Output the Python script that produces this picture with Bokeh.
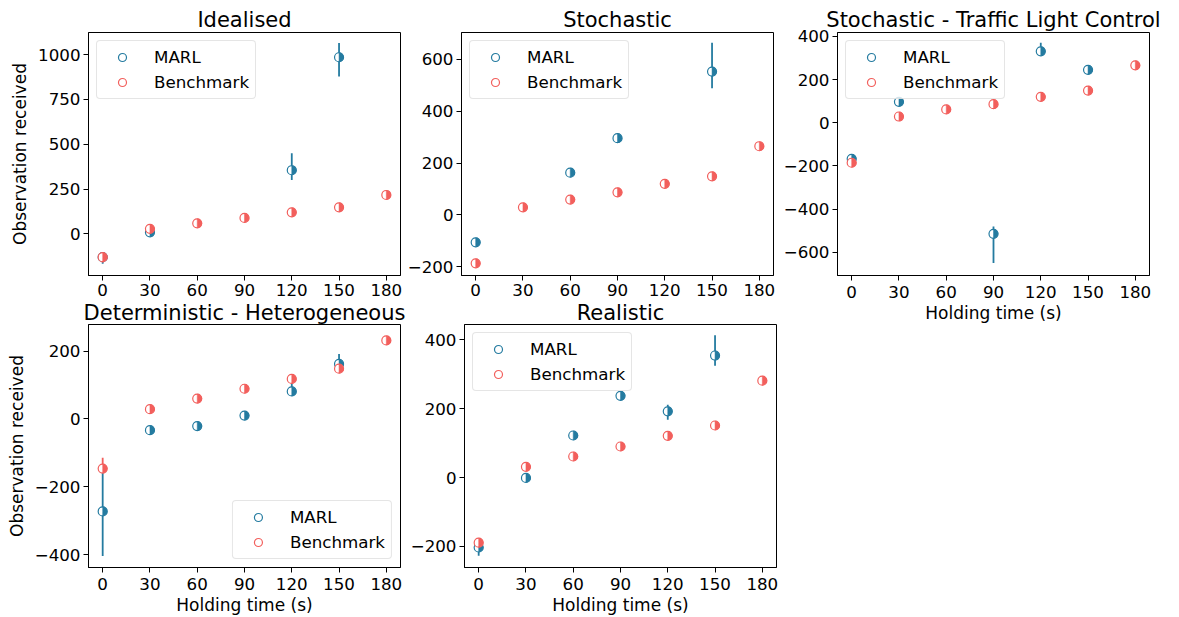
import math
from bokeh.plotting import figure
from bokeh.models import FixedTicker, Legend, LegendItem, Range1d, ColumnDataSource
from bokeh.layouts import row, column
from bokeh.embed import file_html
from bokeh.resources import INLINE

# ---------------- data ----------------
holding = [0, 30, 60, 90, 120, 150, 180]
x_ticks = [0, 30, 60, 90, 120, 150, 180]

# Idealised
ideal_marl_x = [0, 30, 120, 150]
ideal_marl_y = [-130, 9, 355, 985]
ideal_marl_lo = [-167, 1, 301, 877]
ideal_marl_hi = [-103, 17, 450, 1065]
ideal_bench_y = [-130, 28, 59, 89, 120, 148, 217]
ideal_bench_lo = [-160, 25, 56, 86, 117, 145, 214]
ideal_bench_hi = [-110, 31, 62, 92, 123, 151, 220]

# Stochastic
stoch_marl_x = [0, 60, 90, 150]
stoch_marl_y = [-106, 163, 296, 553]
stoch_marl_lo = [-112, 158, 290, 489]
stoch_marl_hi = [-100, 168, 302, 664]
stoch_bench_y = [-187, 29, 59, 87, 120, 149, 265]
stoch_bench_lo = [-192, 26, 56, 84, 117, 146, 261]
stoch_bench_hi = [-182, 32, 62, 90, 123, 152, 269]

# Stochastic - Traffic Light Control
tlc_marl_x = [0, 30, 90, 120, 150]
tlc_marl_y = [-167, 97, -514, 331, 245]
tlc_marl_lo = [-173, 92, -649, 320, 240]
tlc_marl_hi = [-160, 102, -480, 371, 250]
tlc_bench_y = [-185, 29, 62, 86, 120, 149, 266]
tlc_bench_lo = [-190, 26, 59, 83, 117, 146, 262]
tlc_bench_hi = [-180, 32, 65, 89, 123, 152, 270]

# Deterministic - Heterogeneous
het_marl_x = [0, 30, 60, 90, 120, 150]
het_marl_y = [-272, -33, -21, 10, 81, 162]
het_marl_lo = [-403, -38, -26, 5, 72, 140]
het_marl_hi = [-142, -28, -16, 15, 115, 191]
het_bench_y = [-146, 29, 60, 89, 118, 148, 231]
het_bench_lo = [-150, 26, 57, 86, 115, 145, 227]
het_bench_hi = [-114, 32, 63, 92, 121, 151, 235]

# Realistic
real_marl_x = [0, 30, 60, 90, 120, 150]
real_marl_y = [-203, -1, 122, 237, 192, 354]
real_marl_lo = [-227, -5, 118, 232, 168, 324]
real_marl_hi = [-182, 3, 126, 242, 211, 413]
real_bench_y = [-189, 31, 61, 90, 121, 151, 281]
real_bench_lo = [-194, 28, 58, 87, 118, 148, 277]
real_bench_hi = [-184, 34, 64, 93, 124, 154, 285]

series_names = ["MARL", "Benchmark"]
x_label = "Holding time (s)"
y_label = "Observation received"

MARL_COLOR = "#247BA0"
BENCH_COLOR = "#F25F5C"
FONT = "DejaVu Sans"
TICK_FS = "16.7px"


def draw_series(p, xs, ys, lo, hi, color):
    src = ColumnDataSource(dict(x=xs, y=ys, lo=lo, hi=hi))
    p.segment(x0="x", y0="lo", x1="x", y1="hi", source=src,
              line_color=color, line_width=1.8)
    r = p.scatter(x="x", y="y", source=src, size=9, marker="circle",
                  fill_color="white", line_color=color, line_width=1.2)
    p.wedge(x="x", y="y", radius=4.5, radius_units="screen",
            start_angle=-math.pi / 2, end_angle=math.pi / 2, source=src,
            fill_color=color, line_color=color, line_width=0.5)
    return r


def make_panel(title, mx, my, mlo, mhi, by, blo, bhi, yr, yt,
               ylab, xlab, loc, bl, br, bt, title_standoff, x_standoff):
    p = figure(frame_width=312, frame_height=243,
               x_range=Range1d(-9, 189), y_range=Range1d(*yr),
               output_backend="svg", toolbar_location=None,
               min_border_left=bl, min_border_right=br,
               min_border_top=bt, min_border_bottom=0,
               title=title)
    p.title.text_font = FONT
    p.title.text_font_size = "21px"
    p.title.text_font_style = "normal"
    p.title.text_color = "black"
    p.title.align = "center"
    p.title.standoff = title_standoff

    p.xgrid.visible = False
    p.ygrid.visible = False
    p.outline_line_color = "black"
    p.outline_line_width = 1
    p.background_fill_color = "white"
    p.border_fill_color = "white"

    p.xaxis.ticker = FixedTicker(ticks=x_ticks)
    p.yaxis.ticker = FixedTicker(ticks=yt)
    p.yaxis.major_label_overrides = {t: "\u2212" + str(abs(t)) for t in yt if t < 0}
    for ax in (p.xaxis, p.yaxis):
        ax.major_tick_in = 0
        ax.major_tick_out = 5
        ax.minor_tick_line_color = None
        ax.axis_line_color = "black"
        ax.major_tick_line_color = "black"
        ax.major_label_text_font = FONT
        ax.major_label_text_font_size = TICK_FS
        ax.major_label_text_color = "black"
        ax.axis_label_text_font = FONT
        ax.axis_label_text_font_size = "17px"
        ax.axis_label_text_font_style = "normal"
        ax.axis_label_text_color = "black"
    p.xaxis.major_label_standoff = x_standoff
    p.yaxis.major_label_standoff = 3
    p.xaxis.axis_label_standoff = 2
    p.yaxis.axis_label_standoff = 5
    if xlab:
        p.xaxis.axis_label = xlab
    if ylab:
        p.yaxis.axis_label = ylab

    r1 = draw_series(p, mx, my, mlo, mhi, MARL_COLOR)
    r2 = draw_series(p, holding, by, blo, bhi, BENCH_COLOR)

    leg = Legend(items=[LegendItem(label=series_names[0], renderers=[r1]),
                        LegendItem(label=series_names[1], renderers=[r2])],
                 location=loc)
    leg.label_text_font = FONT
    leg.label_text_font_size = TICK_FS
    leg.label_text_color = "black"
    leg.glyph_width = 38
    leg.glyph_height = 20
    leg.label_height = 20
    leg.label_standoff = 13
    leg.spacing = 5
    leg.padding = 6
    leg.margin = 8
    leg.border_line_color = "#cccccc"
    leg.border_line_width = 1
    leg.background_fill_alpha = 0.8
    try:
        leg.border_radius = 4
    except Exception:
        pass
    p.add_layout(leg)
    return p


f1 = make_panel("Idealised", ideal_marl_x, ideal_marl_y, ideal_marl_lo, ideal_marl_hi,
                ideal_bench_y, ideal_bench_lo, ideal_bench_hi,
                (-232, 1123), [0, 250, 500, 750, 1000],
                y_label, None, "top_left", 88, 2, 32, 2, 3)
f2 = make_panel("Stochastic", stoch_marl_x, stoch_marl_y, stoch_marl_lo, stoch_marl_hi,
                stoch_bench_y, stoch_bench_lo, stoch_bench_hi,
                (-234, 704), [-200, 0, 200, 400, 600],
                None, None, "top_left", 59, 2, 32, 2, 3)
f3 = make_panel("Stochastic - Traffic Light Control", tlc_marl_x, tlc_marl_y, tlc_marl_lo, tlc_marl_hi,
                tlc_bench_y, tlc_bench_lo, tlc_bench_hi,
                (-707, 418), [-600, -400, -200, 0, 200, 400],
                None, x_label, "top_left", 59, 20, 32, 2, 5)
f4 = make_panel("Deterministic - Heterogeneous", het_marl_x, het_marl_y, het_marl_lo, het_marl_hi,
                het_bench_y, het_bench_lo, het_bench_hi,
                (-437, 278), [-400, -200, 0, 200],
                y_label, x_label, "bottom_right", 88, 7, 0, 0, 5)
f5 = make_panel("Realistic", real_marl_x, real_marl_y, real_marl_lo, real_marl_hi,
                real_bench_y, real_bench_lo, real_bench_hi,
                (-261, 444), [-200, 0, 200, 400],
                None, x_label, "top_left", 54, 2, 0, 0, 5)

layout = row(column(row(f1, f2), row(f4, f5)), f3)

open("out.html", "w").write(file_html(layout, INLINE))
